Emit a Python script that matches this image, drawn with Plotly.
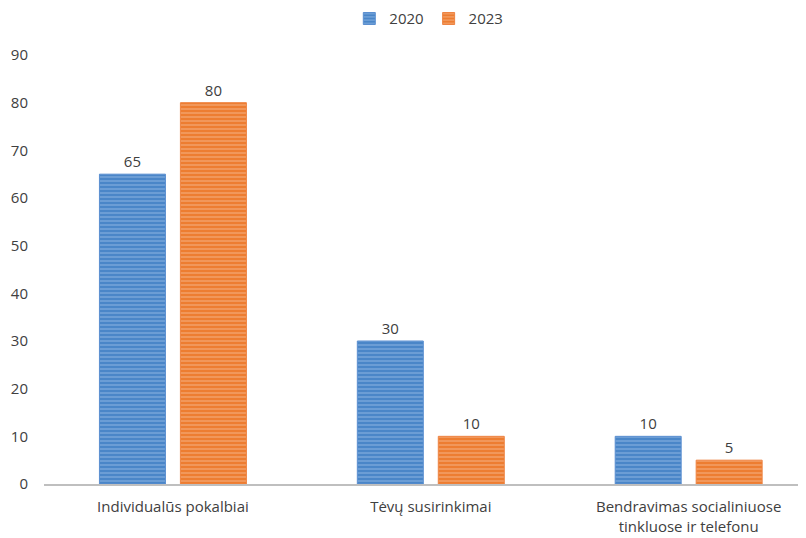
import plotly.graph_objects as go

# dados
categorias = ["Individualūs pokalbiai", "Tėvų susirinkimai",
              "Bendravimas socialiniuose<br>tinkluose ir telefonu"]
serie_2020 = [65, 30, 10]
serie_2023 = [80, 10, 5]
ticks_y = [0, 10, 20, 30, 40, 50, 60, 70, 80, 90]

AZUL = "#4a86c8"
AZUL_CLARO = "#a9c9ec"
LARANJA = "#ed7d31"
LARANJA_CLARO = "#f9c9a6"
TEXTO = "#404040"
FONTE = "Open Sans"

fig = go.Figure()

fig.add_trace(go.Bar(
    x=categorias, y=serie_2020, name="2020",
    marker=dict(color=AZUL, line=dict(color="#5b8fd0", width=1),
                pattern=dict(shape="-", fgcolor=AZUL_CLARO, bgcolor=AZUL,
                             size=4, solidity=0.35, fillmode="overlay")),
    text=serie_2020, textposition="outside",
    textfont=dict(size=15, color=TEXTO, family=FONTE), cliponaxis=False,
))
fig.add_trace(go.Bar(
    x=categorias, y=serie_2023, name="2023",
    marker=dict(color=LARANJA, line=dict(color="#ee8443", width=1),
                pattern=dict(shape="-", fgcolor=LARANJA_CLARO, bgcolor=LARANJA,
                             size=4, solidity=0.35, fillmode="overlay")),
    text=serie_2023, textposition="outside",
    textfont=dict(size=15, color=TEXTO, family=FONTE), cliponaxis=False,
))

fig.update_layout(
    width=806, height=538,
    margin=dict(l=36, r=8, t=47, b=62, autoexpand=False),
    paper_bgcolor="white", plot_bgcolor="white",
    barmode="group", bargap=0.372, bargroupgap=0.185,
    font=dict(family=FONTE, size=15, color=TEXTO),
    legend=dict(orientation="h", x=0.505, xanchor="center",
                yref="container", y=0.98, yanchor="middle",
                font=dict(size=15, color=TEXTO), itemwidth=30,
                traceorder="normal"),
    showlegend=True,
)

fig.update_xaxes(
    range=[-0.5, 2.455], showline=True, linecolor="#bfbfbf", linewidth=2,
    ticks="", tickfont=dict(size=15, color=TEXTO, family=FONTE), showgrid=False,
    ticklabelstandoff=8, automargin=False,
)
fig.update_yaxes(
    range=[0, 90], tickvals=ticks_y, showgrid=False, zeroline=False,
    showline=False, ticks="", ticklabelstandoff=15, automargin=False,
    tickfont=dict(size=15, color=TEXTO, family=FONTE),
)

fig.write_html("out.html")
